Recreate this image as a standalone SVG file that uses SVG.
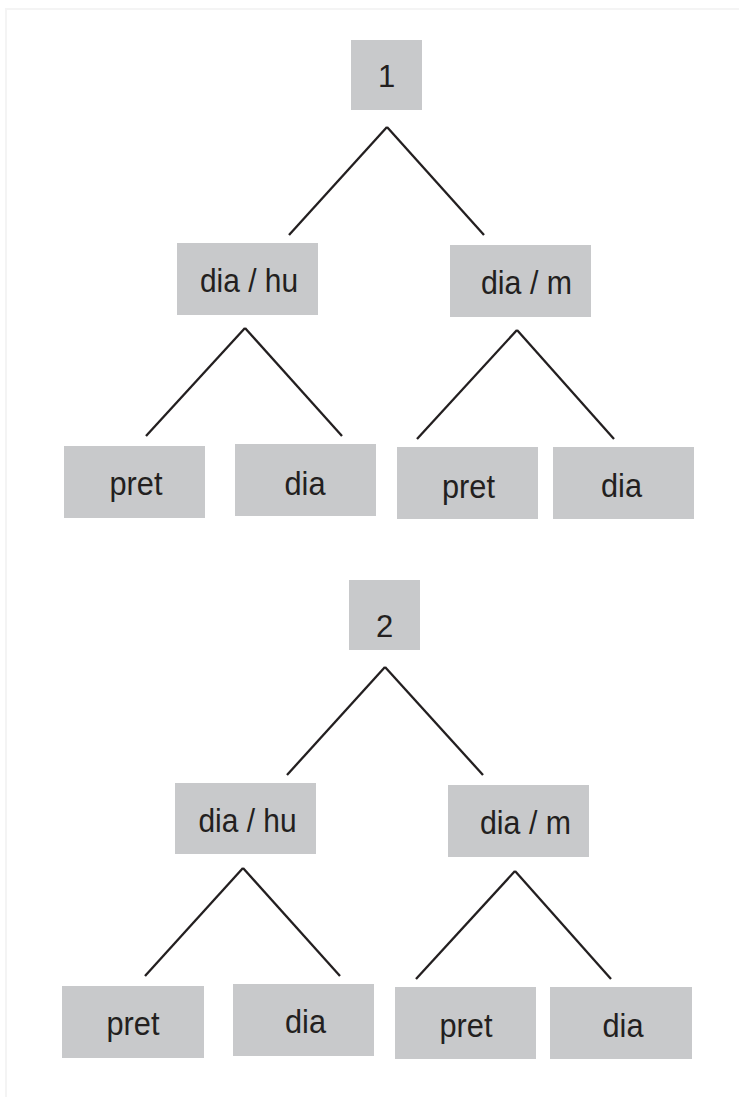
<svg xmlns="http://www.w3.org/2000/svg" width="739" height="1097" viewBox="0 0 739 1097">
  <style>
    .box { fill: #c8c9cb; }
    .lbl { font-family: "Liberation Sans", Arial, sans-serif; font-size: 34px; fill: #231f20; text-anchor: middle; }
    .num { font-size: 31px; }
    .edge { stroke: #231f20; stroke-width: 2.3; fill: none; }
    .frame { fill: none; stroke: #f4f4f4; stroke-width: 2; }
  </style>
  <rect width="739" height="1097" fill="#ffffff"/>
  <rect class="frame" x="6" y="9" width="800" height="1200"/>

  <g id="connectors">
    <!-- tree 1 -->
    <line class="edge" x1="387" y1="127" x2="289" y2="235"/>
    <line class="edge" x1="387" y1="127" x2="484" y2="235"/>
    <line class="edge" x1="245" y1="328" x2="146" y2="436"/>
    <line class="edge" x1="245" y1="328" x2="342" y2="436"/>
    <line class="edge" x1="517" y1="330" x2="417" y2="439"/>
    <line class="edge" x1="517" y1="330" x2="614" y2="439"/>
    <!-- tree 2 -->
    <line class="edge" x1="385" y1="667" x2="287" y2="775"/>
    <line class="edge" x1="385" y1="667" x2="483" y2="775"/>
    <line class="edge" x1="243" y1="868" x2="145" y2="976"/>
    <line class="edge" x1="243" y1="868" x2="340" y2="976"/>
    <line class="edge" x1="515" y1="871" x2="416" y2="979"/>
    <line class="edge" x1="515" y1="871" x2="611" y2="979"/>
  </g>

  <!-- tree 1 -->
  <g id="t1-root"><rect class="box" x="351" y="40" width="71" height="70"/><text class="lbl num" x="386.5" y="87">1</text></g>
  <g id="t1-hu"><rect class="box" x="177" y="243" width="141" height="72"/><text class="lbl" x="249" y="292" textLength="98" lengthAdjust="spacingAndGlyphs">dia / hu</text></g>
  <g id="t1-m"><rect class="box" x="450" y="245" width="141" height="72"/><text class="lbl" x="526.5" y="294" textLength="91" lengthAdjust="spacingAndGlyphs">dia / m</text></g>
  <g id="t1-hu-pret"><rect class="box" x="64" y="446" width="141" height="72"/><text class="lbl" x="136" y="495" textLength="53" lengthAdjust="spacingAndGlyphs">pret</text></g>
  <g id="t1-hu-dia"><rect class="box" x="235" y="444" width="141" height="72"/><text class="lbl" x="305" y="494.5" textLength="41" lengthAdjust="spacingAndGlyphs">dia</text></g>
  <g id="t1-m-pret"><rect class="box" x="397" y="447" width="141" height="72"/><text class="lbl" x="468.5" y="497.5" textLength="53" lengthAdjust="spacingAndGlyphs">pret</text></g>
  <g id="t1-m-dia"><rect class="box" x="553" y="447" width="141" height="72"/><text class="lbl" x="621.5" y="497" textLength="41" lengthAdjust="spacingAndGlyphs">dia</text></g>

  <!-- tree 2 -->
  <g id="t2-root"><rect class="box" x="349" y="580" width="71" height="70"/><text class="lbl num" x="384.5" y="637">2</text></g>
  <g id="t2-hu"><rect class="box" x="175" y="783" width="141" height="71"/><text class="lbl" x="247.5" y="832" textLength="98" lengthAdjust="spacingAndGlyphs">dia / hu</text></g>
  <g id="t2-m"><rect class="box" x="448" y="785" width="141" height="72"/><text class="lbl" x="525.5" y="834" textLength="91" lengthAdjust="spacingAndGlyphs">dia / m</text></g>
  <g id="t2-hu-pret"><rect class="box" x="62" y="986" width="142" height="72"/><text class="lbl" x="133" y="1035" textLength="53" lengthAdjust="spacingAndGlyphs">pret</text></g>
  <g id="t2-hu-dia"><rect class="box" x="233" y="984" width="141" height="72"/><text class="lbl" x="305.5" y="1033" textLength="41" lengthAdjust="spacingAndGlyphs">dia</text></g>
  <g id="t2-m-pret"><rect class="box" x="395" y="987" width="141" height="72"/><text class="lbl" x="466" y="1037" textLength="53" lengthAdjust="spacingAndGlyphs">pret</text></g>
  <g id="t2-m-dia"><rect class="box" x="550" y="987" width="142" height="72"/><text class="lbl" x="623" y="1037" textLength="41" lengthAdjust="spacingAndGlyphs">dia</text></g>
</svg>
